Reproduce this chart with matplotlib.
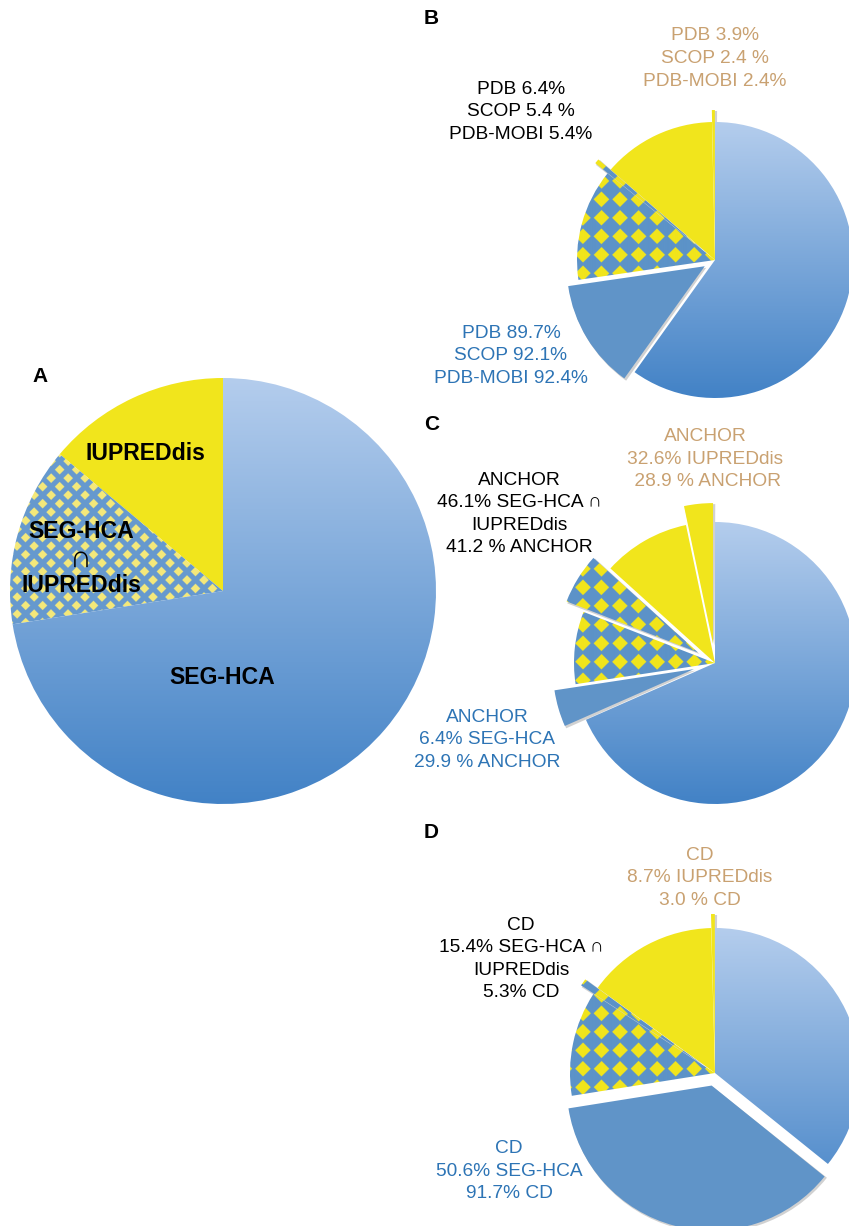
import numpy as np
import matplotlib
matplotlib.use('Agg')
import matplotlib.pyplot as plt
from matplotlib.patches import Wedge
from matplotlib.colors import to_rgb

W, H = 849, 1226

# --- data -------------------------------------------------------------
# pie A, slices counter-clockwise from 12 o'clock (percent)
a_labels = ['IUPREDdis', 'SEG-HCA\n∩\nIUPREDdis', 'SEG-HCA']
a_values = [13.9, 13.6, 72.5]

# pies B-D, slices counter-clockwise from 12 o'clock (percent)
# yellow part, yellow, checker part, checker, blue part, blue
b_values = [0.35, 13.3, 0.55, 13.1, 12.8, 59.9]
c_values = [3.3, 10.0, 5.8, 8.3, 4.2, 68.4]
d_values = [0.42, 14.6, 0.8, 11.7, 36.7, 35.8]

b_tan = 'PDB 3.9%\nSCOP 2.4 %\nPDB-MOBI 2.4%'
b_black = 'PDB 6.4%\nSCOP 5.4 %\nPDB-MOBI 5.4%'
b_blue = 'PDB 89.7%\nSCOP 92.1%\nPDB-MOBI 92.4%'
c_tan = 'ANCHOR\n32.6% IUPREDdis\n 28.9 % ANCHOR'
c_black = 'ANCHOR\n46.1% SEG-HCA ∩\nIUPREDdis\n41.2 % ANCHOR'
c_blue = 'ANCHOR\n6.4% SEG-HCA\n29.9 % ANCHOR'
d_tan = 'CD\n8.7% IUPREDdis\n3.0 % CD'
d_black = 'CD\n15.4% SEG-HCA ∩\nIUPREDdis\n5.3% CD'
d_blue = 'CD\n50.6% SEG-HCA\n91.7% CD'

# --- style ------------------------------------------------------------
YELLOW = '#F1E51C'
DARK = '#6094C8'
GRAD_TOP = '#B4CDED'
GRAD_BOT = '#4282C6'
TAN = '#C9A171'
BLUE_TXT = '#2D74B5'
FONT = ['Liberation Sans', 'DejaVu Sans']
kinds = ['yellow', 'yellow', 'check', 'check', 'dark', 'grad']

fig = plt.figure(figsize=(W / 100, H / 100), dpi=100)
ax = fig.add_axes([0, 0, 1, 1])
ax.set_xlim(0, W)
ax.set_ylim(0, H)
ax.axis('off')


def gradient_fill(w, cx, cy, r):
    n = 256
    t = np.linspace(0, 1, n)[:, None]
    top, bot = np.array(to_rgb(GRAD_TOP)), np.array(to_rgb(GRAD_BOT))
    img = (top * (1 - t) + bot * t)[:, None, :]
    im = ax.imshow(img, extent=(cx - r, cx + r, cy - r, cy + r), origin='upper',
                   aspect='auto', zorder=2, interpolation='bilinear')
    im.set_clip_path(w)


def checker_fill(w, cx, cy, r, s, h, blue, yel, offset_rows):
    k = 3
    n = int(2 * r * k)
    xs = np.linspace(cx - r, cx + r, n)
    ys = np.linspace(cy + r, cy - r, n)
    X, Y = np.meshgrid(xs, ys)
    u = np.mod(X, s)
    v = np.mod(Y, s)
    d = np.abs(u - s / 2) + np.abs(v - s / 2)
    if offset_rows:
        d = np.minimum(d, np.minimum(u, s - u) + np.minimum(v, s - v))
    mask = d < h
    img = np.empty(mask.shape + (3,))
    img[:] = to_rgb(blue)
    img[mask] = to_rgb(yel)
    im = ax.imshow(img, extent=(cx - r, cx + r, cy - r, cy + r), origin='upper',
                   aspect='auto', zorder=2, interpolation='antialiased')
    im.set_clip_path(w)


def draw_pie(center, r, values, explode, check_style):
    cx0, cy0 = center[0], H - center[1]
    total = sum(values)
    ang = 90.0
    for val, kind, ex in zip(values, kinds, explode):
        span = 360.0 * val / total
        mid = np.radians(ang + span / 2)
        cx, cy = cx0 + ex * np.cos(mid), cy0 + ex * np.sin(mid)
        if ex > 0:
            sh = Wedge((cx + 1.5, cy - 1.5), r + 0.5, ang - 0.3, ang + span + 0.3,
                       facecolor='#9a9a9a', edgecolor='none', alpha=0.45, zorder=1)
            ax.add_patch(sh)
        fc = {'yellow': YELLOW, 'dark': DARK}.get(kind, 'none')
        w = Wedge((cx, cy), r, ang, ang + span, facecolor=fc, edgecolor='none', zorder=2)
        ax.add_patch(w)
        if kind == 'grad':
            gradient_fill(w, cx, cy, r)
        elif kind == 'check':
            checker_fill(w, cx, cy, r, *check_style)
        ang += span


# pie A
cxA, cyA, rA = 223, H - 591, 213
ang = 90.0
for val, kind in zip(a_values, ['yellow', 'check', 'grad']):
    span = 360.0 * val / sum(a_values)
    w = Wedge((cxA, cyA), rA, ang, ang + span,
              facecolor=YELLOW if kind == 'yellow' else 'none', edgecolor='none', zorder=2)
    ax.add_patch(w)
    if kind == 'grad':
        gradient_fill(w, cxA, cyA, rA)
    elif kind == 'check':
        checker_fill(w, cxA, cyA, rA, 17.0, 4.8, '#6699CF', '#F4E87A', True)
    ang += span

check_bcd = (18.5, 7.8, '#5C93C8', YELLOW, False)
draw_pie((715, 260), 138, b_values, [12, 0, 16, 0, 12, 0], check_bcd)
draw_pie((715, 663), 141, c_values, [19, 0, 20, 0, 22, 0], check_bcd)
draw_pie((715, 1073), 145, d_values, [14, 0, 15, 0, 13, 0], check_bcd)


def label(x, y, s, color='black', size=13.8, weight='normal', ls=1.45):
    ax.text(x, H - y, s, ha='center', va='center', multialignment='center',
            color=color, fontsize=size, fontweight=weight, family=FONT,
            linespacing=ls, zorder=5)


# pie A labels
label(145, 453, a_labels[0], size=16.6, weight='bold')
for line, y in zip(a_labels[1].split('\n'), [531, 559, 585]):
    big = line == '∩'
    label(81, y, line, size=22 if big else 16.6, weight='normal' if big else 'bold')
label(222, 677, a_labels[2], size=16.6, weight='bold')

# panel letters
for letter, (x, y) in zip('ABCD', [(32, 376), (424, 19), (424, 425), (424, 833)]):
    ax.text(x, H - y, letter, ha='left', va='center', fontsize=15,
            fontweight='bold', family=FONT, zorder=5)

label(715, 58.5, b_tan, color=TAN)
label(521, 112, b_black)
label(511, 356, b_blue, color=BLUE_TXT)
label(705, 459, c_tan, color=TAN)
label(519, 514, c_black, ls=1.4)
label(487, 740, c_blue, color=BLUE_TXT)
label(700, 878, d_tan, color=TAN)
label(521, 959, d_black, ls=1.4)
label(509, 1171, d_blue, color=BLUE_TXT)

fig.savefig('out.png', dpi=100)
